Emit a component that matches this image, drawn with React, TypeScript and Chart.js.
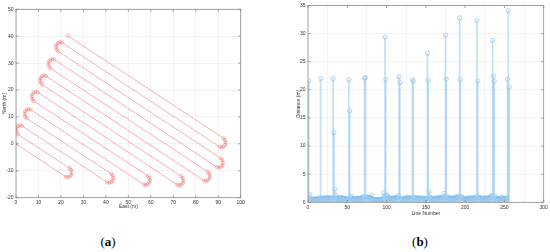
import React, { useEffect, useRef } from "react";
import { Chart, registerables } from "chart.js";
Chart.register(...registerables);

// ---- (a) trajectory: East / North in metres ----
const eastM = [
  0,
  22.1, 23.0, 23.9, 24.6, 24.8, 24.5, 23.9,
  0.9, 0.3, 0.0, 0.2, 0.9, 1.8, 2.7,
  40.6, 41.5, 42.4, 43.1, 43.3, 43.0, 42.4,
  4.7, 4.1, 3.8, 4.0, 4.7, 5.6, 6.5,
  56.9, 57.8, 58.7, 59.4, 59.6, 59.3, 58.7,
  7.9, 7.3, 7.0, 7.2, 7.9, 8.8, 9.7,
  71.8, 72.7, 73.6, 74.3, 74.5, 74.2, 73.6,
  11.6, 11.0, 10.7, 10.9, 11.6, 12.5, 13.4,
  83.6, 84.5, 85.4, 86.1, 86.3, 86.0, 85.4,
  15.3, 14.7, 14.4, 14.6, 15.3, 16.2, 17.1,
  89.4, 90.3, 91.2, 91.9, 92.1, 91.8, 91.2,
  18.7, 18.1, 17.8, 18.0, 18.7, 19.6, 20.5,
  90.6, 91.5, 92.4, 93.1, 93.3, 93.0, 92.4,
  23.0,
];
const northM = [
  0,
  -12.2, -12.4, -12.1, -11.5, -10.6, -9.7, -9.0,
  3.5, 4.2, 5.1, 6.0, 6.6, 6.9, 6.7,
  -14.3, -14.5, -14.2, -13.6, -12.7, -11.8, -11.1,
  9.5, 10.2, 11.1, 12.0, 12.6, 12.9, 12.7,
  -15.1, -15.3, -15.0, -14.4, -13.5, -12.6, -11.9,
  15.9, 16.6, 17.5, 18.4, 19.0, 19.3, 19.1,
  -15.2, -15.4, -15.1, -14.5, -13.6, -12.7, -12.0,
  22.0, 22.7, 23.6, 24.5, 25.1, 25.4, 25.2,
  -13.6, -13.8, -13.5, -12.9, -12.0, -11.1, -10.4,
  28.1, 28.8, 29.7, 30.6, 31.2, 31.5, 31.3,
  -8.6, -8.8, -8.5, -7.9, -7.0, -6.1, -5.4,
  34.4, 35.1, 36.0, 36.9, 37.5, 37.8, 37.6,
  -1.1, -1.3, -1.0, -0.4, 0.5, 1.4, 2.1,
  40.2,
];
const eastRange = [0, 100];
const northRange = [-20, 50];

// ---- (b) distance per line number ----
const distanceM = [
  21.6, 1.4, 0.6, 0.5, 0.6, 0.5, 0.5, 0.6, 0.5, 0.6, 0.5, 0.5, 0.6, 0.7, 0.8, 22.0,
  0.7, 0.6, 0.8, 0.7, 0.6, 0.7, 0.8, 0.9, 0.7, 0.6, 0.8, 0.7, 0.7, 0.8, 0.6, 22.0,
  12.4, 2.3, 1.3, 0.8, 0.6, 0.7, 0.5, 0.8, 0.9, 0.7, 0.6, 0.8, 0.7, 0.6, 0.5, 0.7,
  0.6, 0.5, 0.6, 21.8, 16.3, 0.9, 1.1, 0.7, 0.5, 0.6, 0.6, 0.5, 0.7, 0.6, 0.6, 0.7,
  0.7, 0.6, 0.8, 0.7, 0.6, 0.9, 1.0, 22.1, 22.2, 1.0, 0.8, 0.9, 0.7, 0.8, 0.9, 0.8,
  1.3, 0.6, 0.5, 0.4, 0.5, 0.4, 0.5, 0.4, 0.5, 0.4, 0.5, 0.4, 0.5, 0.5, 0.6, 1.7,
  1.0, 29.4, 21.8, 1.3, 1.2, 0.7, 0.6, 0.8, 0.7, 0.5, 0.6, 0.7, 0.8, 0.7, 0.6, 0.8,
  0.9, 0.7, 1.2, 22.3, 21.3, 0.8, 0.6, 0.5, 0.6, 0.5, 0.7, 0.8, 0.7, 0.6, 0.9, 0.8,
  0.7, 0.8, 0.6, 0.7, 21.8, 21.5, 0.9, 0.8, 0.7, 0.8, 0.7, 0.6, 0.8, 0.7, 0.6, 0.7,
  0.8, 0.7, 0.6, 0.5, 0.7, 0.6, 0.7, 26.5, 21.7, 1.9, 0.9, 0.7, 0.8, 0.6, 0.5, 0.6,
  0.7, 0.6, 0.7, 0.8, 0.6, 0.7, 0.9, 0.8, 0.7, 0.8, 0.7, 0.9, 1.6, 0.9, 29.7, 21.9,
  1.1, 0.8, 0.7, 0.6, 0.8, 0.7, 0.6, 0.7, 0.8, 0.6, 0.7, 0.9, 1.0, 0.8, 0.7, 1.1,
  32.8, 21.8, 1.0, 0.9, 0.7, 0.6, 0.5, 0.6, 0.5, 0.6, 0.7, 0.8, 0.7, 0.6, 0.7, 0.8,
  0.7, 0.8, 0.6, 0.7, 0.8, 1.0, 32.3, 21.6, 0.9, 0.8, 0.7, 0.8, 0.7, 0.6, 0.7, 0.8,
  0.6, 0.7, 0.8, 0.7, 0.6, 0.8, 0.7, 0.9, 1.2, 1.0, 28.8, 22.4, 21.5, 1.1, 0.8, 0.7,
  0.6, 0.5, 0.7, 0.6, 0.5, 0.8, 0.9, 0.7, 0.5, 0.6, 0.7, 0.6, 0.8, 21.9, 34.1, 20.5,
];
const lineRange = [0, 300];
const distanceRange = [0, 35];

const FONT = "'Liberation Sans', Arial, Helvetica, sans-serif";
const TXT = "#333333";
const GRID = "#ebebeb";

const boxPlugin = {
  id: "matlabBox",
  afterDatasetsDraw(chart: any) {
    const { ctx, chartArea: a, scales } = chart;
    ctx.save();
    ctx.strokeStyle = "#8a8a8a";
    ctx.lineWidth = 0.8;
    ctx.strokeRect(a.left, a.top, a.right - a.left, a.bottom - a.top);
    const xs = scales.x;
    const ys = scales.y;
    ctx.beginPath();
    xs.ticks.forEach((t: any) => {
      const p = xs.getPixelForValue(t.value);
      ctx.moveTo(p, a.bottom);
      ctx.lineTo(p, a.bottom - 2.5);
      ctx.moveTo(p, a.top);
      ctx.lineTo(p, a.top + 2.5);
    });
    ys.ticks.forEach((t: any) => {
      const p = ys.getPixelForValue(t.value);
      ctx.moveTo(a.left, p);
      ctx.lineTo(a.left + 2.5, p);
      ctx.moveTo(a.right, p);
      ctx.lineTo(a.right - 2.5, p);
    });
    ctx.stroke();
    ctx.restore();
  },
};

function axis(min: number, max: number, step: number, title: string, opts: any) {
  return {
    type: "linear",
    min,
    max,
    grid: { color: GRID, lineWidth: 0.6, drawTicks: false },
    border: { display: false },
    ticks: {
      stepSize: step,
      font: { size: 5, family: FONT },
      color: TXT,
      padding: opts.tickPad,
      maxRotation: 0,
      autoSkip: false,
    },
    title: {
      display: true,
      text: title,
      font: { size: 5, family: FONT },
      color: TXT,
      padding: opts.titlePad,
    },
    afterFit: opts.afterFit,
  };
}

function TrajectoryChart() {
  const ref = useRef<HTMLCanvasElement>(null);
  useEffect(() => {
    const pts = eastM.map((x, i) => ({ x, y: northM[i] }));
    const col = "rgba(248,120,120,0.75)";
    const chart = new Chart(ref.current!, {
      type: "scatter",
      data: {
        datasets: [
          {
            data: pts,
            showLine: true,
            borderColor: col,
            borderWidth: 0.8,
            pointRadius: 1.6,
            pointBorderWidth: 0.7,
            pointBorderColor: col,
            pointBackgroundColor: "rgba(0,0,0,0)",
          },
        ],
      },
      options: {
        responsive: false,
        animation: false,
        devicePixelRatio: 1,
        plugins: { legend: { display: false }, tooltip: { enabled: false } },
        layout: { padding: { top: 9.3, right: 21.3, left: 0, bottom: 0 } },
        scales: {
          x: axis(eastRange[0], eastRange[1], 10, "East (m)", {
            tickPad: 2,
            titlePad: { top: 0, bottom: 4.7 },
            afterFit: (s: any) => { s.height = 16.3; },
          }),
          y: axis(northRange[0], northRange[1], 10, "North (m)", {
            tickPad: 2.5,
            titlePad: { top: 2, bottom: 0 },
            afterFit: (s: any) => { s.width = 16; },
          }),
        },
      } as any,
      plugins: [boxPlugin],
    });
    return () => chart.destroy();
  }, []);
  return (
    <canvas ref={ref} width={262} height={214} style={{ position: "absolute", left: 0, top: 0 }} />
  );
}

function DistanceChart() {
  const ref = useRef<HTMLCanvasElement>(null);
  useEffect(() => {
    const pts = distanceM.map((y, i) => ({ x: i + 1, y }));
    const chart = new Chart(ref.current!, {
      type: "scatter",
      data: {
        datasets: [
          {
            type: "bar",
            data: pts,
            backgroundColor: "rgba(150,203,240,0.6)",
            borderWidth: 0,
            barThickness: 1,
          } as any,
          {
            data: pts,
            showLine: false,
            pointRadius: 2.1,
            pointBorderWidth: 0.7,
            pointBorderColor: "rgba(120,182,232,0.8)",
            pointBackgroundColor: "rgba(0,0,0,0)",
          },
        ],
      },
      options: {
        responsive: false,
        animation: false,
        devicePixelRatio: 1,
        plugins: { legend: { display: false }, tooltip: { enabled: false } },
        layout: { padding: { top: 4.3, right: 6.3, left: 0, bottom: 0 } },
        scales: {
          x: {
            ...axis(lineRange[0], lineRange[1], 50, "Line Number", {
              tickPad: 2,
              titlePad: { top: 0, bottom: 3.7 },
              afterFit: (s: any) => { s.height = 17.7; },
            }),
            offset: false,
          },
          y: axis(distanceRange[0], distanceRange[1], 5, "Distance (m)", {
            tickPad: 2.5,
            titlePad: { top: 5.3, bottom: 0 },
            afterFit: (s: any) => { s.width = 18; },
          }),
        },
      } as any,
      plugins: [boxPlugin],
    });
    return () => chart.destroy();
  }, []);
  return (
    <canvas ref={ref} width={260} height={220} style={{ position: "absolute", left: 290, top: 0 }} />
  );
}

const labelStyle: React.CSSProperties = {
  position: "absolute",
  top: 235,
  width: 40,
  textAlign: "center",
  fontFamily: "'Liberation Serif', 'Times New Roman', serif",
  fontSize: 13,
  lineHeight: "13px",
  color: "#000",
};

export default function App() {
  return (
    <div
      style={{
        position: "fixed",
        left: 0,
        top: 0,
        width: 550,
        height: 252,
        background: "#fff",
        overflow: "hidden",
      }}
    >
      <TrajectoryChart />
      <DistanceChart />
      <div style={{ ...labelStyle, left: 88 }}>
        (<b>a</b>)
      </div>
      <div style={{ ...labelStyle, left: 400 }}>
        (<b>b</b>)
      </div>
    </div>
  );
}
